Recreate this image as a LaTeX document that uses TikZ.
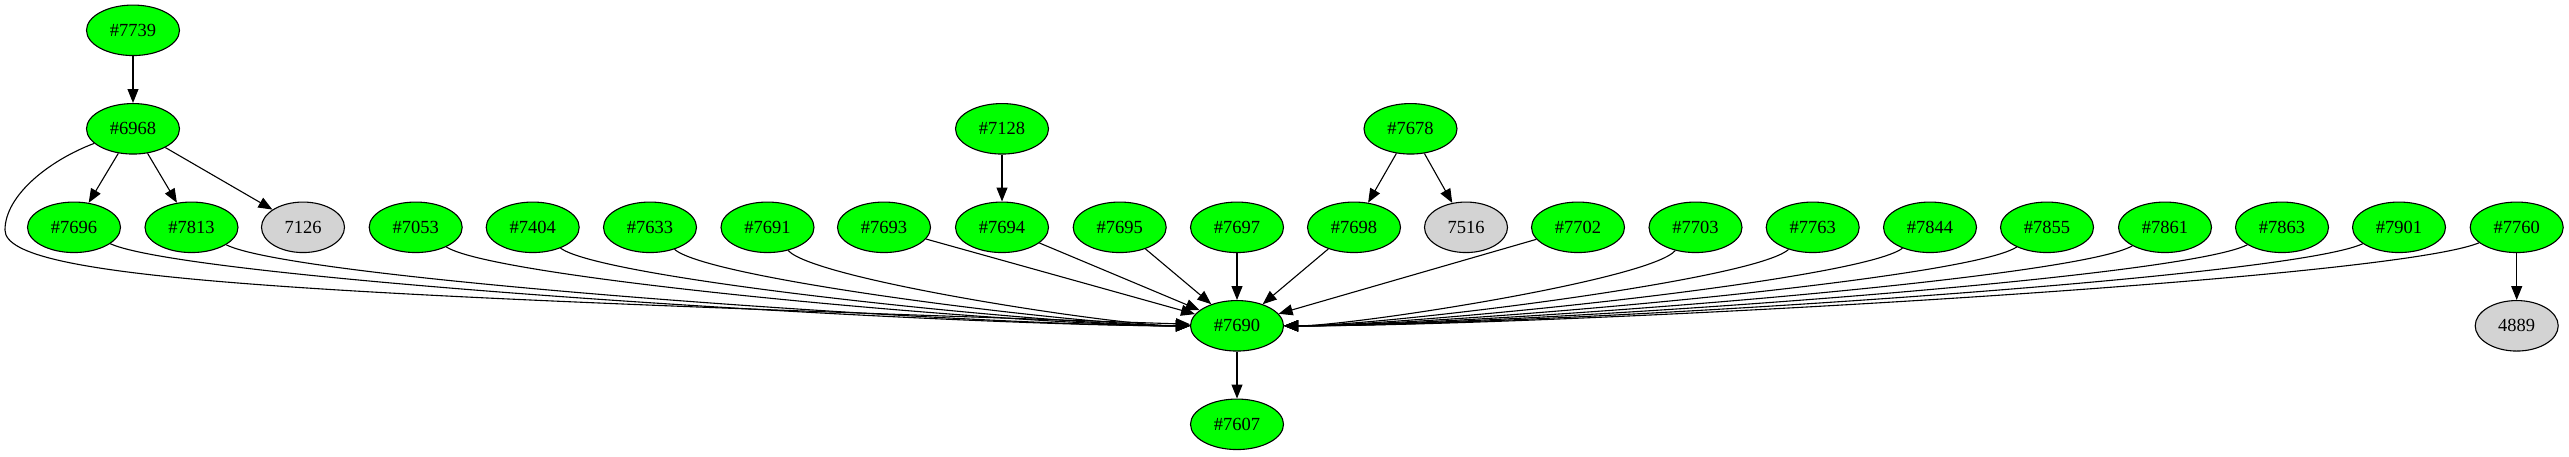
\documentclass[tikz,border=0pt]{standalone}
\usepackage{fontspec}
\setmainfont{Liberation Serif}
\usetikzlibrary{shapes.geometric,arrows.meta}
\definecolor{livegreen}{RGB}{0,255,0}
\definecolor{deadgray}{RGB}{211,211,211}

\begin{document}
\begin{tikzpicture}[x=1pt, y=-1pt, state/.style={ellipse, draw, line
      width=1.1pt, fill=livegreen, minimum width=93pt, minimum
      height=50.5pt, inner sep=0pt, font=\fontsize{18.5}{20}\selectfont},
    gone/.style={fill=deadgray, minimum width=83pt}]
    \useasboundingbox (0,0) rectangle (2569,456);
    \begin{scope}[every node/.style={state}]
      \node (7739) at (133,30.3) {\#7739}; \node (6968) at (133,128.8)
      {\#6968}; \node (7128) at (1002,128.8) {\#7128}; \node (7678) at
      (1410.5,128.8) {\#7678};
      \foreach \n/\x in {7696/74, 7813/191.5, 7053/415.7, 7404/532.7,
        7633/650, 7691/767.5, 7693/884, 7694/1002, 7695/1119.7,
        7697/1237, 7698/1354, 7702/1578, 7703/1695.5, 7763/1812.7,
        7844/1930, 7855/2047, 7861/2165, 7863/2282, 7901/2399,
        7760/2516.7} \node (\n) at (\x,227.3) {\#\n};
      \node [gone] (7126) at (303,227.3) {7126}; \node [gone] (7516) at
      (1466,227.3) {7516}; \node (7690) at (1237,325.8) {\#7690};
      \node [gone] (4889) at (2516.7,325.8) {4889}; \node (7607) at
      (1237,424.3) {\#7607};
    \end{scope}
    \begin{scope}[->, >={Triangle[length=14pt,width=11pt]}, line
      width=1.1pt]
      \draw (7739) -- (6968); \draw (6968) -- (7696); \draw (6968) --
      (7813); \draw (6968) -- (7126); \draw (7128) -- (7694); \draw
      (7678) -- (7698); \draw (7678) -- (7516); \draw (7760) -- (4889);
      \draw (7690) -- (7607);
      \draw (6968) .. controls (50,160) and (5,195) .. (5,230)
      .. controls (5,280) and (300,295) .. (7690);
      \foreach \n/\x in {7696/74, 7813/191.5, 7053/415.7, 7404/532.7,
        7633/650, 7691/767.5} \draw (\n) .. controls
      ({\x+0.1*(1237-\x)},280) and ({1237-0.25*(1237-\x)},326)
      .. (7690);
      \foreach \n in {7693, 7694, 7695, 7697, 7698, 7702} \draw (\n) --
      (7690);
      \foreach \n/\x in {7703/1695.5, 7763/1812.7, 7844/1930,
        7855/2047, 7861/2165, 7863/2282, 7901/2399, 7760/2516.7} \draw
      (\n) .. controls ({\x-0.1*(\x-1237)},280) and
      ({1237+0.25*(\x-1237)},326) .. (7690);
    \end{scope}
  \end{tikzpicture}
\end{document}
